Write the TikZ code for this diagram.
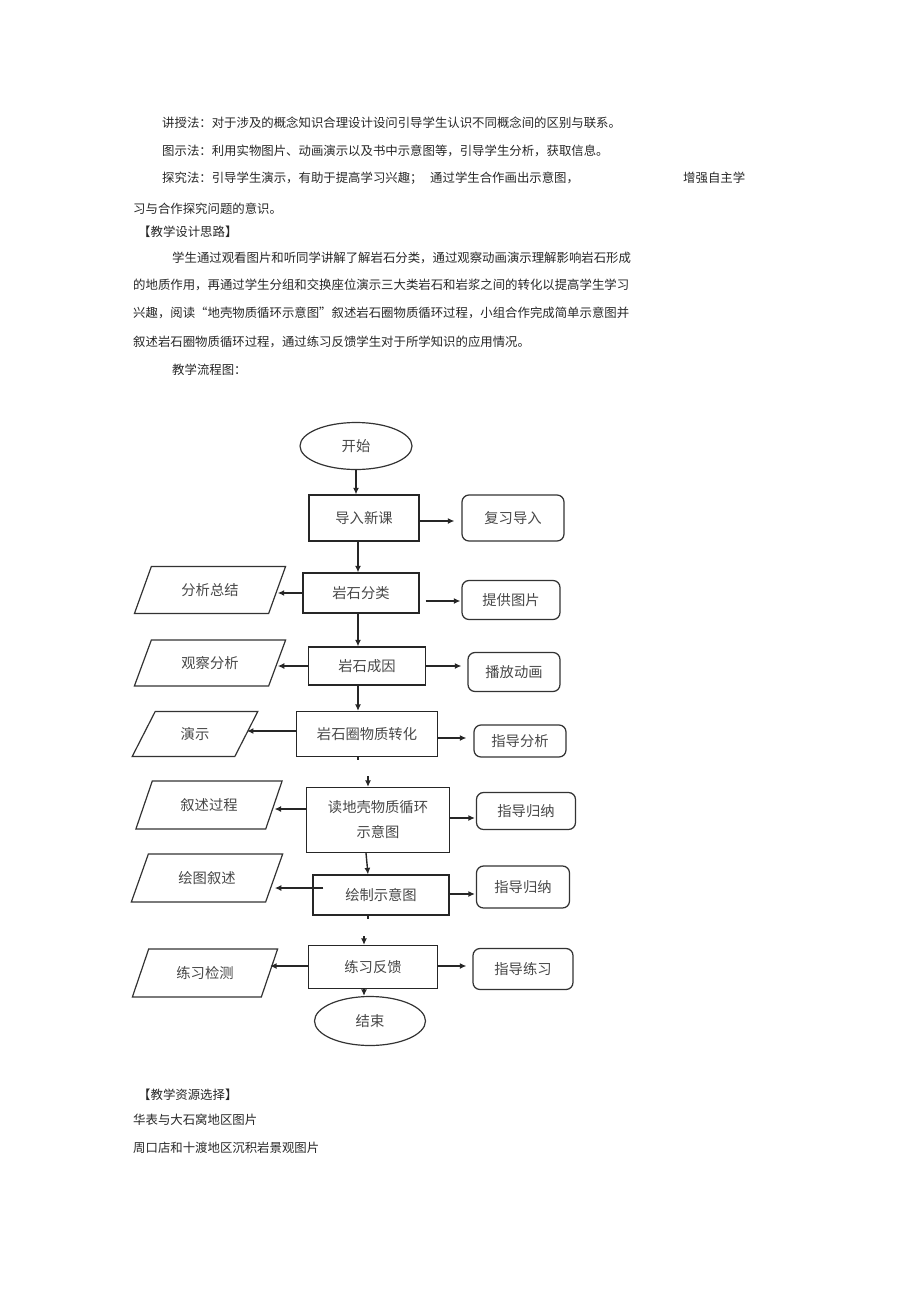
\documentclass[tikz,border=0pt]{standalone}
\usepackage{fontspec}
\newfontfamily\cjk{Noto Sans CJK SC}
\usetikzlibrary{arrows.meta,shapes.geometric}
\tikzset{
  bodytext/.style={anchor=west, inner sep=0pt, text=black!85, font=\cjk\fontsize{12.4}{15}\selectfont},
  flowtext/.style={text=black!72, font=\cjk\fontsize{14.3}{25}\selectfont, align=center, inner sep=0pt},
  stepbox/.style={flowtext, draw=black!85, line width=1.25pt, rectangle},
  notebox/.style={flowtext, draw=black!80, line width=1.25pt, rounded corners=7pt},
  actbox/.style={flowtext, draw=black!80, line width=1.2pt, trapezium, trapezium left angle=58, trapezium right angle=122, trapezium stretches=true},
  termbox/.style={flowtext, draw=black!80, line width=1.2pt, ellipse},
  wire/.style={draw=black!85, line width=1.4pt},
  flow/.style={wire, -{Latex[length=6.5pt,width=6pt]}},
}

\begin{document}
\begin{tikzpicture}[x=1pt, y=-1pt]
			%%%%% START %%%%%
			\useasboundingbox (0, 0) rectangle (920, 1301);
			
			% text above the chart
			\node[bodytext] (teachA) at (162, 123) {讲授法：对于涉及的概念知识合理设计设问引导学生认识不同概念间的区别与联系。};
			\node[bodytext] (teachB) at (162, 151) {图示法：利用实物图片、动画演示以及书中示意图等，引导学生分析，获取信息。};
			\node[bodytext] (teachC) at (162, 178) {探究法：引导学生演示，有助于提高学习兴趣；};
			\node[bodytext] (teachD) at (430, 178) {通过学生合作画出示意图，};
			\node[bodytext] (teachE) at (683, 178) {增强自主学};
			\node[bodytext] (teachF) at (133, 209) {习与合作探究问题的意识。};
			
			\node[bodytext] (ideaHead) at (138, 232) {【教学设计思路】};
			\node[bodytext] (ideaA) at (172, 258) {学生通过观看图片和听同学讲解了解岩石分类，通过观察动画演示理解影响岩石形成};
			\node[bodytext] (ideaB) at (133, 285) {的地质作用，再通过学生分组和交换座位演示三大类岩石和岩浆之间的转化以提高学生学习};
			\node[bodytext] (ideaC) at (133, 313) {兴趣，阅读“地壳物质循环示意图”叙述岩石圈物质循环过程，小组合作完成简单示意图并};
			\node[bodytext] (ideaD) at (133, 342) {叙述岩石圈物质循环过程，通过练习反馈学生对于所学知识的应用情况。};
			\node[bodytext] (chartHead) at (172, 370) {教学流程图：};
			
			% main column
			\node[termbox, minimum width=112pt, minimum height=47pt] (start) at (356, 446) {开始};
			\node[stepbox, minimum width=110pt, minimum height=46pt] (intro) at (364, 518) {导入新课};
			\node[stepbox, minimum width=116pt, minimum height=40pt] (classify) at (361, 593) {岩石分类};
			\node[stepbox, minimum width=117pt, minimum height=38pt] (cause) at (367, 666) {岩石成因};
			\node[stepbox, minimum width=141pt, minimum height=45pt] (transform) at (367, 734) {岩石圈物质转化};
			\node[stepbox, minimum width=143pt, minimum height=65pt] (read) at (378, 820) {读地壳物质循环\\示意图};
			\node[stepbox, minimum width=136pt, minimum height=40pt] (sketch) at (381, 895) {绘制示意图};
			\node[stepbox, minimum width=129pt, minimum height=43pt] (practice) at (373, 967) {练习反馈};
			\node[termbox, minimum width=111pt, minimum height=49pt] (finish) at (370, 1021) {结束};
			
			% teacher column
			\node[notebox, minimum width=102pt, minimum height=46pt] (review) at (513, 518) {复习导入};
			\node[notebox, minimum width=98pt, minimum height=39pt] (pictures) at (511, 600) {提供图片};
			\node[notebox, minimum width=92pt, minimum height=39pt] (anim) at (514, 672) {播放动画};
			\node[notebox, minimum width=92pt, minimum height=32pt] (guideA) at (520, 741) {指导分析};
			\node[notebox, minimum width=99pt, minimum height=37pt] (induceA) at (526, 811) {指导归纳};
			\node[notebox, minimum width=93pt, minimum height=42pt] (induceB) at (523, 887) {指导归纳};
			\node[notebox, minimum width=100pt, minimum height=41pt] (guideB) at (523, 969) {指导练习};
			
			% student column
			\node[actbox, minimum width=152pt, minimum height=47pt] (summary) at (210, 590) {分析总结};
			\node[actbox, minimum width=152pt, minimum height=46pt] (observe) at (210, 663) {观察分析};
			\node[actbox, minimum width=126pt, minimum height=45pt] (demo) at (195, 734) {演示};
			\node[actbox, minimum width=147pt, minimum height=48pt] (narrate) at (209, 805) {叙述过程};
			\node[actbox, minimum width=152pt, minimum height=48pt] (retell) at (207, 878) {绘图叙述};
			\node[actbox, minimum width=146pt, minimum height=48pt] (test) at (205, 973) {练习检测};
			
			% vertical connectors
			\coordinate (spineA) at (358, 0);
			\coordinate (spineB) at (368, 0);
			\coordinate (spineC) at (364, 0);
			\coordinate (gapA) at (368, 776);
			\coordinate (gapB) at (364, 936);
			
			\draw[flow] (start) -- (start |- intro.north);
			\draw[flow] (intro.south -| spineA) -- (classify.north -| spineA);
			\draw[flow] (classify.south -| spineA) -- (cause.north -| spineA);
			\draw[flow] (cause.south -| spineA) -- (transform.north -| spineA);
			\draw[wire] (transform.south -| spineA) -- ++(0, 3);
			\draw[flow] (gapA) -- (read.north -| gapA);
			\draw[flow] ([xshift=-12pt]read.south) -- (sketch.north -| spineB);
			\draw[wire] (sketch.south -| spineB) -- ++(0, 3);
			\draw[flow] (gapB) -- (practice.north -| gapB);
			\draw[flow] (practice.south -| spineC) -- (finish.north -| spineC);
			
			% right connectors
			\draw[flow, shorten >=7pt] ([yshift=-3pt]intro.east) -- ([yshift=-3pt]intro.east -| review.west);
			\draw[flow, shorten <=6pt, shorten >=1pt] ([yshift=-8pt]classify.east) -- ([yshift=-8pt]classify.east -| pictures.west);
			\draw[flow, shorten >=6pt] (cause.east) -- (cause.east -| anim.west);
			\draw[flow, shorten >=7pt] ([yshift=-4pt]transform.east) -- ([yshift=-4pt]transform.east -| guideA.west);
			\draw[flow, shorten >=1pt] ([yshift=2pt]read.east) -- ([yshift=2pt]read.east -| induceA.west);
			\draw[flow, shorten >=1pt] ([yshift=1pt]sketch.east) -- ([yshift=1pt]sketch.east -| induceB.west);
			\draw[flow, shorten >=6pt] ([yshift=1pt]practice.east) -- ([yshift=1pt]practice.east -| guideB.west);
			
			% left connectors
			\draw[flow] (classify.west) -- (classify.west -| summary.east);
			\draw[flow] (cause.west) -- (cause.west -| observe.east);
			\draw[flow] ([yshift=3pt]transform.west) -- ([yshift=3pt]transform.west -| demo.east);
			\draw[flow] ([yshift=11pt]read.west) -- ([yshift=11pt]read.west -| narrate.east);
			\draw[flow, shorten <=-11pt] ([yshift=7pt]sketch.west) -- ([yshift=7pt]sketch.west -| retell.east);
			\draw[flow] ([yshift=1pt]practice.west) -- ([yshift=1pt]practice.west -| test.east);
			
			% text below the chart
			\node[bodytext] (sourceHead) at (138, 1095) {【教学资源选择】};
			\node[bodytext] (sourceA) at (133, 1120) {华表与大石窝地区图片};
			\node[bodytext] (sourceB) at (133, 1148) {周口店和十渡地区沉积岩景观图片};
			
			%%%%% END %%%%%
\end{tikzpicture}
\end{document}
